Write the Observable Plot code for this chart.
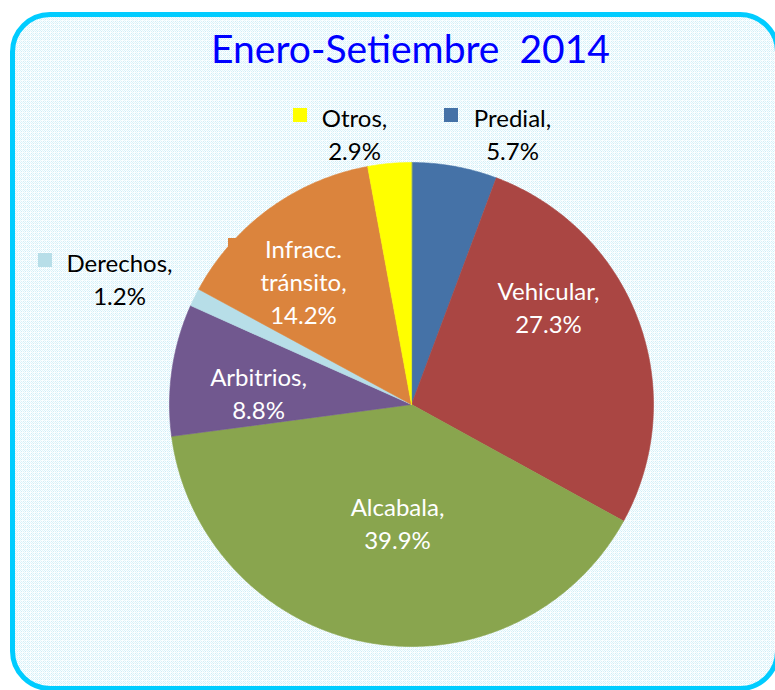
<!DOCTYPE html>
<html>
<head>
<meta charset="utf-8">
<script src="https://cdn.jsdelivr.net/npm/d3@7"></script>
<script src="https://cdn.jsdelivr.net/npm/@observablehq/plot@0.6"></script>
<style>
html, body { margin: 0; padding: 0; background: #fff; }
#wrap { position: relative; width: 775px; height: 690px; overflow: hidden; }
#frame {
  position: absolute; left: 10px; top: 12px; width: 770px; height: 679px;
  box-sizing: border-box; border: 5px solid #00CCFF; border-radius: 40px;
  background-color: #fff;
  background-image: url("data:image/svg+xml,%3Csvg xmlns='http://www.w3.org/2000/svg' width='4' height='4'%3E%3Crect width='4' height='4' fill='%23fbfeff'/%3E%3Crect x='0' y='0' width='1' height='1' fill='%23cdeef7'/%3E%3Crect x='2' y='0' width='1' height='1' fill='%23daf2f9'/%3E%3Crect x='1' y='1' width='1' height='1' fill='%23daf2f9'/%3E%3Crect x='3' y='1' width='1' height='1' fill='%23e4f6fb'/%3E%3Crect x='0' y='2' width='1' height='1' fill='%23daf2f9'/%3E%3Crect x='2' y='2' width='1' height='1' fill='%23cdeef7'/%3E%3Crect x='1' y='3' width='1' height='1' fill='%23e8f7fb'/%3E%3C/svg%3E");
}
#chart { position: absolute; left: 0; top: 0; }
#chart svg text { white-space: pre; }
</style>
</head>
<body>
<div id="wrap"><div id="frame"></div><div id="chart"></div></div>
<script>
// ---- data ----
const categories = ["Predial", "Vehicular", "Alcabala", "Arbitrios", "Derechos", "Infracc. tránsito", "Otros"];
const values = [5.7, 27.3, 39.9, 8.8, 1.2, 14.2, 2.9];
const labelNames = ["Predial,", "Vehicular,", "Alcabala,", "Arbitrios,", "Derechos,", "Infracc.\ntránsito,", "Otros,"];
const title = "Enero-Setiembre  2014";

// ---- style / layout ----
const colors = ["#4572A7", "#AA4643", "#89A54E", "#71588F", "#B7DEE8", "#DB843D", "#FFFF00"];
const W = 775, H = 690;
const cx = 411, cy = 404, R = 242;
const labelLayout = {
  "Predial": {x: 512, y: 132, fill: "#000", marker: [444, 108]},
  "Vehicular": {x: 548, y: 305, fill: "#fff"},
  "Alcabala": {x: 397, y: 521, fill: "#fff"},
  "Arbitrios": {x: 258, y: 391, fill: "#fff"},
  "Derechos": {x: 119, y: 277, fill: "#000", marker: [38, 253]},
  "Infracc. tránsito": {x: 303, y: 280, fill: "#fff", marker: [228, 238]},
  "Otros": {x: 354, y: 132, fill: "#000", marker: [293, 108]}
};
const markerSize = 14;

// ---- build slices from data ----
const total = d3.sum(values);
const points = [];
let acc = 0;
categories.forEach((name, i) => {
  const a0 = acc / total * 2 * Math.PI;
  acc += values[i];
  const a1 = acc / total * 2 * Math.PI;
  points.push({name, x: cx, y: cy});
  const n = Math.max(2, Math.ceil((a1 - a0) / (Math.PI / 360)));
  for (let k = 0; k <= n; k++) {
    const a = a0 + (a1 - a0) * k / n;
    points.push({name, x: cx + R * Math.sin(a), y: cy - R * Math.cos(a)});
  }
});

const labels = categories.map((name, i) => ({
  name,
  text: `${labelNames[i]}\n${values[i].toFixed(1)}%`,
  ...labelLayout[name]
}));
const markers = labels.filter(d => d.marker).map(d => ({
  name: d.name, x1: d.marker[0], y1: d.marker[1], x2: d.marker[0] + markerSize, y2: d.marker[1] + markerSize
}));

const chart = Plot.plot({
  width: W, height: H,
  margin: 0,
  style: {background: "transparent", fontFamily: "Lato, sans-serif"},
  x: {domain: [0, W], range: [0, W], axis: null},
  y: {domain: [0, H], range: [0, H], axis: null},
  color: {domain: categories, range: colors},
  marks: [
    Plot.line(points, {x: "x", y: "y", z: "name", fill: "name", stroke: "name", strokeWidth: 0.6, curve: "linear-closed"}),
    Plot.rect(markers, {x1: "x1", x2: "x2", y1: "y1", y2: "y2", fill: "name"}),
    Plot.text(labels, {x: "x", y: "y", text: "text", fill: d => d.fill, fontSize: 24, lineHeight: 1.375, fontFamily: "Lato, sans-serif"}),
    Plot.text([title], {x: () => 410, y: () => 50, text: d => d, fill: "#0000FF", fontSize: 39, fontFamily: "Lato, sans-serif"})
  ]
});
document.getElementById("chart").appendChild(chart);
</script>
</body>
</html>
